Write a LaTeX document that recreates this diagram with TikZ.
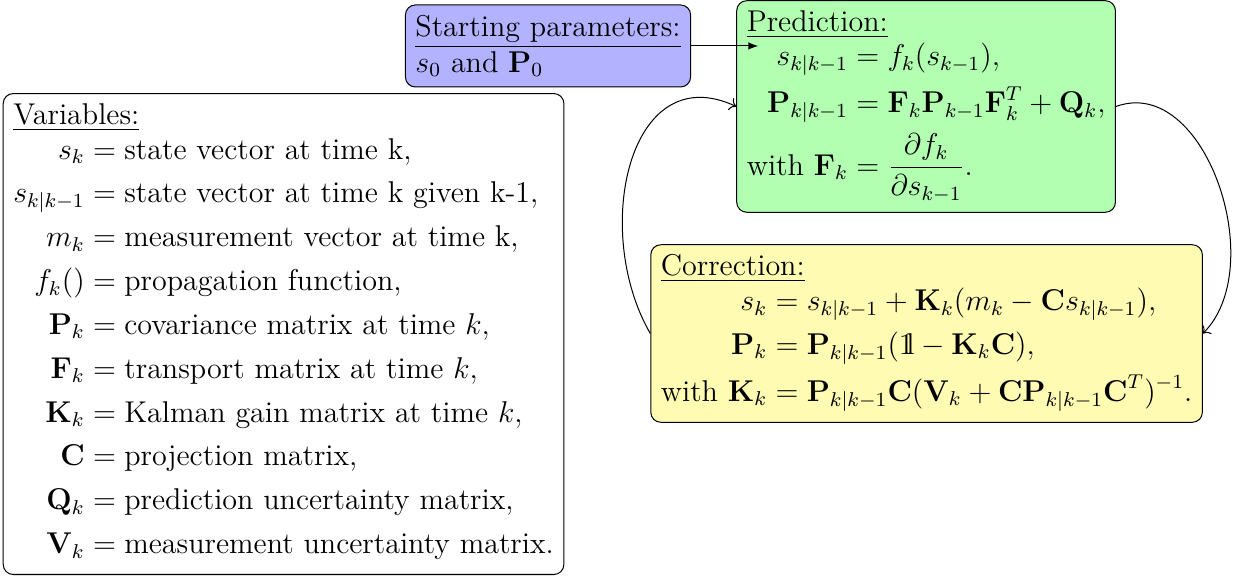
\documentclass[12pt,tikz,border=0pt]{standalone}
\usepackage{amsmath,amssymb}
\IfFileExists{bbm.sty}{\usepackage{bbm}\newcommand{\unitm}{\mathbbm{1}}}{%
  \IfFileExists{bbold.sty}{\usepackage{bbold}\newcommand{\unitm}{\mathbb{1}}}{%
    \newcommand{\unitm}{\mathrm{1\kern-0.24em l}}}}
\usepackage{tikz}
\usetikzlibrary{arrows.meta,positioning,calc}
\usepackage{xcolor}

\begin{document}
\begin{tikzpicture}[
    box/.style={rectangle, draw, rounded corners=4pt, fill=#1, align=left},
    box/.default=white,
    arr/.style={-latex},
    cyc/.style={->}
]
\useasboundingbox (0,0) rectangle (17.41,-8.12);

% Starting parameters (top)
\node[box=blue!30] (start) at (7.688,-0.645) {\underline{Starting parameters:}\\$s_0$ and $\mathbf{P}_0$};

% Prediction step (right, top)
\node[box=green!30] (pred) at (12.992,-1.494) {\underline{Prediction:}\\
$\begin{aligned}
s_{k|k-1} &= f_k(s_{k-1}),\\
\mathbf{P}_{k|k-1} &= \mathbf{F}_k\mathbf{P}_{k-1}\mathbf{F}_k^T+\mathbf{Q}_k,\\
\text{with }\mathbf{F}_k &= \frac{\partial f_k}{\partial s_{k-1}}.
\end{aligned}$};

% Correction step (right, bottom)
\node[box=yellow!30] (corr) at (12.999,-4.679) {\underline{Correction:}\\
$\begin{aligned}
s_k &= s_{k|k-1}+\mathbf{K}_k(m_k-\mathbf{C}s_{k|k-1}),\\
\mathbf{P}_k &= \mathbf{P}_{k|k-1}(\unitm-\mathbf{K}_k\mathbf{C}),\\
\text{with }\mathbf{K}_k &= \mathbf{P}_{k|k-1}\mathbf{C}(\mathbf{V}_k+\mathbf{C}\mathbf{P}_{k|k-1}\mathbf{C}^T)^{-1}.
\end{aligned}$};

% Variables (left)
\node[box] (vars) at (3.978,-4.686) {\underline{Variables:}\\
$\begin{aligned}
s_k &= \text{state vector at time k},\\
s_{k|k-1} &= \text{state vector at time k given k-1},\\
m_k &= \text{measurement vector at time k},\\
f_k() &= \text{propagation function},\\
\mathbf{P}_k &= \text{covariance matrix at time $k$},\\
\mathbf{F}_k &= \text{transport matrix at time $k$},\\
\mathbf{K}_k &= \text{Kalman gain matrix at time $k$},\\
\mathbf{C} &= \text{projection matrix},\\
\mathbf{Q}_k &= \text{prediction uncertainty matrix},\\
\mathbf{V}_k &= \text{measurement uncertainty matrix}.
\end{aligned}$};

% arrows
\coordinate (in) at ($(start.east -| pred.west)+(0.31,0)$);
\draw[arr] (start.east) -- (in);
\draw[cyc] (pred.east) to[out=20, in=45, looseness=1.0] (corr.east);
\draw[cyc] (corr.west) to[out=120, in=155, looseness=1.25] (pred.west);

\end{tikzpicture}
\end{document}
